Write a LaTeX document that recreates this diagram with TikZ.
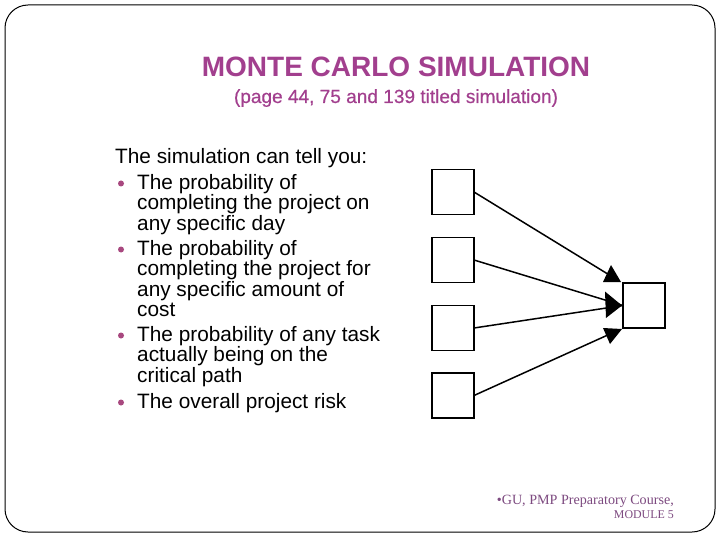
\documentclass[tikz,border=0pt]{standalone}
\usepackage{fontspec}
\setmainfont{Liberation Sans}
\newfontfamily\footfont{Liberation Serif}
\newfontfamily\subfont[FakeBold=0.5]{Liberation Sans}
\definecolor{titlepurple}{HTML}{A23F8E}
\definecolor{bulletpurple}{HTML}{A8487F}
\definecolor{footpurple}{HTML}{7D4A80}
\tikzset{
  sq/.style={draw=black,line width=1.5pt,fill=white,minimum width=42pt,minimum height=45pt,inner sep=0pt,outer sep=0pt},
  conn/.style={draw=black,line width=1.5pt},
  head/.style={fill=black,draw=none},
  bodytext/.style={anchor=north west,align=left,inner sep=0pt,font=\fontsize{20.8}{20.4}\selectfont,text=black},
  dot/.style={circle,fill=bulletpurple,draw=none,minimum size=6pt,inner sep=0pt},
}
\begin{document}
\begin{tikzpicture}[x=1pt,y=-1pt]
\useasboundingbox (0,0) rectangle (720,540);
\fill[white] (0,0) rectangle (720,540);
\draw[black,line width=1pt,rounded corners=23pt] (5,5) rectangle (715,532);
\node[anchor=base,inner sep=0pt,text=titlepurple,font=\fontsize{28}{30}\selectfont\bfseries] (title) at (396,76.5) {MONTE CARLO SIMULATION};
\node[anchor=base,inner sep=0pt,text=titlepurple,font=\subfont\fontsize{19.05}{20}\selectfont] (sub) at (396,103) {(page 44, 75 and 139 titled simulation)};
\node[bodytext] (intro) at (115,148) {The simulation can tell you:};
\node[bodytext] (b1) at (137,174) {The probability of\\completing the project on\\any specific day};
\node[bodytext] (b2) at (137,240) {The probability of\\completing the project for\\any specific amount of\\cost};
\node[bodytext] (b3) at (137,326) {The probability of any task\\actually being on the\\critical path};
\node[bodytext] (b4) at (137,393) {The overall project risk};
\node[dot] (d1) at (121,183.5) {};
\node[dot] (d2) at (121,249.5) {};
\node[dot] (d3) at (121,335.5) {};
\node[dot] (d4) at (121,402.5) {};
\node[sq] (s1) at (453,192) {};
\node[sq] (s2) at (453,260) {};
\node[sq] (s3) at (453,328) {};
\node[sq] (s4) at (453,395.5) {};
\node[sq] (t) at (644,305.5) {};
\coordinate (e1) at (611,276);
\coordinate (e4) at (610,334);
\draw[conn] (s1.east) -- (e1);
\draw[conn] (s2.east) -- (t.west);
\draw[conn] (s3.east) -- (t.west);
\draw[conn] (s4.east) -- (e4);
\fill[head] (611,265) -- (603,282) -- (621,282) -- cycle;
\fill[head] (605,291.5) -- (622,305.5) -- (606,318) -- cycle;
\fill[head] (603,328) -- (622,329) -- (610,344) -- cycle;
\node[anchor=base east,inner sep=0pt,text=footpurple,font=\footfont\fontsize{14.1}{15}\selectfont] (f1) at (674,504) {•GU, PMP Preparatory Course,};
\node[anchor=base east,inner sep=0pt,text=footpurple,font=\footfont\fontsize{11.9}{14}\selectfont] (f2) at (674,518) {MODULE 5};
\end{tikzpicture}
\end{document}
